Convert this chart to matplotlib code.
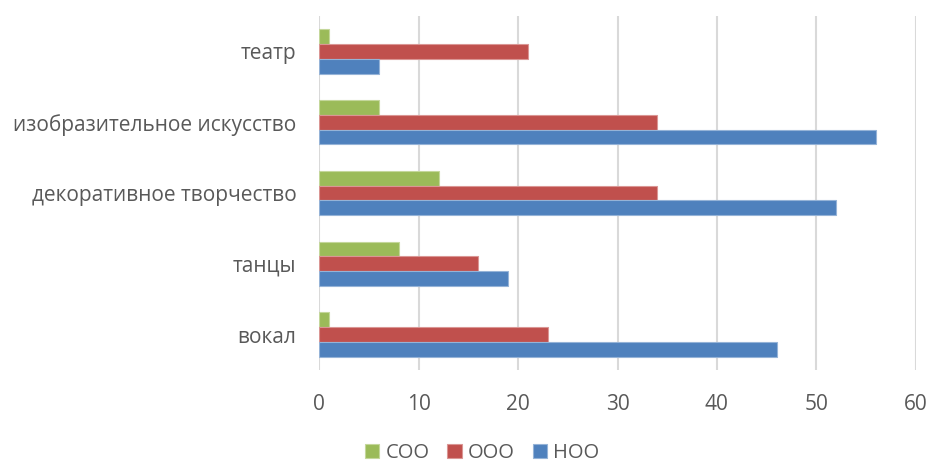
import matplotlib
matplotlib.use("Agg")
import matplotlib.pyplot as plt
import numpy as np

categories = ["вокал", "танцы", "декоративное творчество", "изобразительное искусство", "театр"]
series_names = ["СОО", "ООО", "НОО"]
soo = [1, 8, 12, 6, 1]
ooo = [23, 16, 34, 34, 21]
noo = [46, 19, 52, 56, 6]
colors = ["#9BBB59", "#C0504D", "#4F81BD"]
edge_colors = ["#C4D79B", "#DA9694", "#95B3D7"]
xticks = [0, 10, 20, 30, 40, 50, 60]

plt.rcParams['font.family'] = ['Open Sans', 'DejaVu Sans']
text_color = "#595959"

fig = plt.figure(figsize=(9.36, 4.66), dpi=100)
ax = fig.add_axes([319.3/936, 1-370/466, (915.7-319.3)/936, (370-16)/466])

y = np.arange(len(categories))
h = 0.625 / 3
offsets = [h, 0, -h]
for vals, off, c, ec, name in zip([soo, ooo, noo], offsets, colors, edge_colors, series_names):
    ax.barh(y + off, vals, height=h, color=c, edgecolor=ec, linewidth=0.8, label=name, zorder=3)

ax.set_xlim(0, 60)
ax.set_ylim(-0.5, len(categories) - 0.5)
ax.set_xticks(xticks)
ax.set_xticklabels([str(t) for t in xticks])
ax.set_yticks(y)
ax.set_yticklabels(categories)
ax.grid(axis='x', color="#D9D9D9", linewidth=1.5, zorder=0)
ax.set_axisbelow(True)
for s in ax.spines.values():
    s.set_visible(False)
ax.tick_params(axis='both', length=0, colors=text_color, labelsize=15)
ax.tick_params(axis='y', pad=16.5)
ax.tick_params(axis='x', pad=17)

handles, labels = ax.get_legend_handles_labels()
leg = fig.legend(handles, labels, loc='center', bbox_to_anchor=(482/936, 1-453/466), ncol=3,
                 frameon=False, fontsize=14.5, handlelength=0.7, handleheight=0.7,
                 handletextpad=0.3, columnspacing=0.9)
for t in leg.get_texts():
    t.set_color(text_color)

fig.savefig("out.png", dpi=100)
